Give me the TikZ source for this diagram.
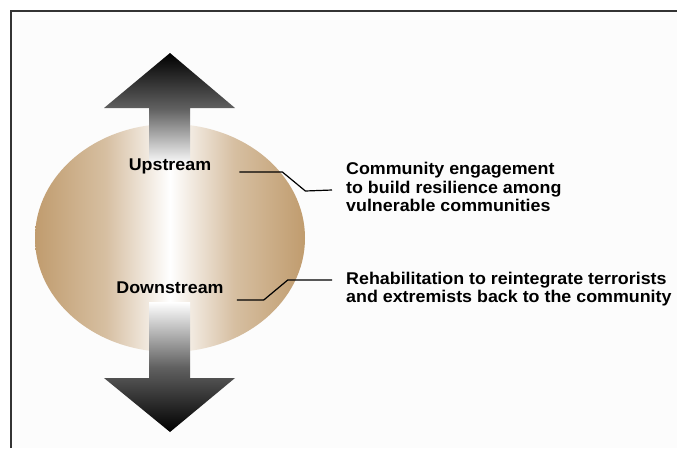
\documentclass[tikz,border=0pt]{standalone}
\usepackage{fontspec}
\setmainfont[FakeStretch=1.05]{Liberation Sans}
\usepackage{tikz}

\definecolor{sand}{RGB}{192,156,110}
\definecolor{paper}{RGB}{252,252,252}

\pgfdeclarehorizontalshading{ballshade}{100bp}{color(0bp)=(sand); color(25bp)=(sand);
  color(38bp)=(sand!65!white); color(50bp)=(white); color(62bp)=(sand!65!white);
  color(75bp)=(sand); color(100bp)=(sand)}

\tikzset{
  stream/.style={font=\fontsize{17}{18.5}\selectfont\bfseries, inner sep=0pt},
  remark/.style={font=\fontsize{17}{18.5}\selectfont\bfseries, align=left, anchor=west, inner sep=0pt},
  leader/.style={draw, line width=1.2pt}
}

\begin{document}
\begin{tikzpicture}[x=1pt,y=-1pt]
\useasboundingbox (0,0) rectangle (677,448);
\fill[paper] (11,11) rectangle (677,448);
\draw[line width=1.6pt, black!80] (11,448) -- (11,11) -- (677,11);

% ball
\shade[shading=ballshade]
  (170,238) ellipse [x radius=135pt, y radius=114pt];

% arrows
\shade[top color=black, bottom color=white, middle color=black!62]
  (149,165) -- (149,108) -- (104,108) -- (170,53) -- (235,108)
  -- (190,108) -- (190,165) -- cycle;
\shade[top color=white, bottom color=black, middle color=black!62]
  (149,302) -- (149,378) -- (104,378) -- (170,432) -- (235,378)
  -- (190,378) -- (190,302) -- cycle;

\node[stream] (up) at (170,166) {Upstream};
\node[stream] (down) at (170,288) {Downstream};

\node[remark] (upnote) at (346,187) {Community engagement\\to build resilience among\\vulnerable communities};
\node[remark] (downnote) at (346,289) {Rehabilitation to reintegrate terrorists\\and extremists back to the community};

\coordinate (upend) at (332,190);
\coordinate (downend) at (332,280);

\draw[leader] ([xshift=28pt,yshift=-6pt]up.east) -- ++(43,0) -- ++(23,19) -- (upend);
\draw[leader] ([xshift=13pt,yshift=-12pt]down.east) -- ++(27,0) -- ++(24,-20) -- (downend);
\end{tikzpicture}
\end{document}
